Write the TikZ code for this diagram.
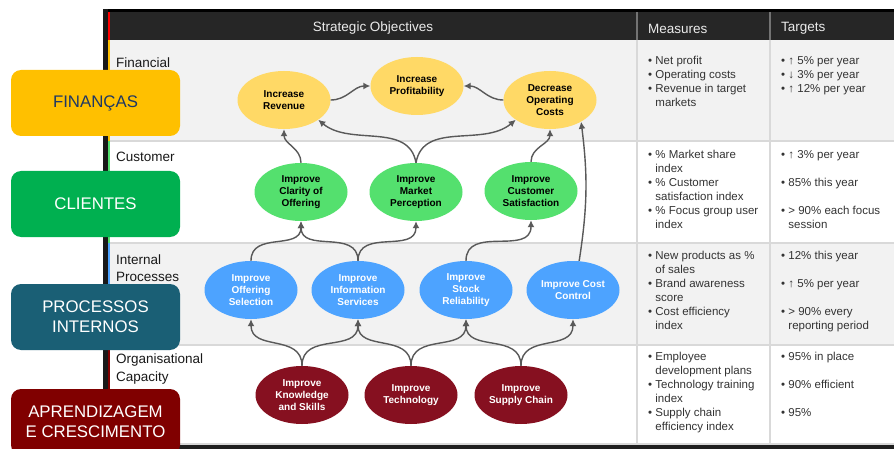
\documentclass[tikz,border=0pt]{standalone}
\usepackage{fontspec}
\setmainfont{Liberation Sans}
\usetikzlibrary{shapes.geometric,arrows.meta}
\definecolor{hdrc}{HTML}{262626}
\definecolor{rowc}{HTML}{F2F2F2}
\definecolor{gridc}{HTML}{D9D9D9}
\definecolor{finc}{HTML}{FFD966}
\definecolor{cusc}{HTML}{54E06E}
\definecolor{intc}{HTML}{4DA3FF}
\definecolor{orgc}{HTML}{861020}
\definecolor{arrc}{HTML}{595959}
\definecolor{bfin}{HTML}{FFC000}
\definecolor{bcus}{HTML}{00B050}
\definecolor{bint}{HTML}{1A5F75}
\definecolor{borg}{HTML}{800000}
\definecolor{navy}{HTML}{1F3864}
\definecolor{txtc}{HTML}{333333}
\begin{document}
\begin{tikzpicture}[x=1pt,y=1pt,
  obj/.style={ellipse, minimum width=93pt, minimum height=58pt, inner sep=0pt, align=center,
    font=\fontsize{10}{12.3}\selectfont\bfseries},
  fin/.style={obj, fill=finc, text=black},
  cus/.style={obj, fill=cusc, text=black},
  int/.style={obj, fill=intc, text=white},
  org/.style={obj, fill=orgc, text=white},
  link/.style={draw=arrc, line width=1.4pt, -{Latex[length=7pt,width=7pt]}},
  cell/.style={anchor=north west, align=left, font=\fontsize{11.5}{13.9}\selectfont, text=txtc, inner sep=0pt},
  rowlab/.style={anchor=west, align=left, font=\fontsize{13.5}{17.5}\selectfont, text=black!90, inner sep=0pt},
  hdrtext/.style={font=\fontsize{13.5}{16}\selectfont, text=white!92!black, inner sep=0pt},
  persp/.style={rounded corners=10pt, minimum width=169pt, minimum height=66pt, align=center,
    font=\fontsize{16.8}{20}\selectfont, inner sep=0pt},
  gridline/.style={draw=gridc, line width=1.6pt},
]
\useasboundingbox (0,0) rectangle (894,-449);
\fill[white] (0,0) rectangle (894,-449);
% table rows
\fill[rowc] (110,-40) rectangle (894,-141);
\fill[white] (110,-141) rectangle (894,-243);
\fill[rowc] (110,-243) rectangle (894,-345);
\fill[white] (110,-345) rectangle (894,-445);
\draw[gridline] (110,-141) -- (894,-141);
\draw[gridline] (110,-243) -- (894,-243);
\draw[gridline] (110,-345) -- (894,-345);
\draw[gridline] (110,-444) -- (894,-444);
\draw[gridline] (637,-40) -- (637,-445);
\draw[gridline] (770,-40) -- (770,-445);
% header
\fill[hdrc] (103,-9) rectangle (894,-40);
\fill[black] (103,-9) rectangle (894,-12);
\draw[draw=black!55, line width=1.2pt] (637,-12) -- (637,-40);
\draw[draw=black!55, line width=1.2pt] (770,-12) -- (770,-40);
\fill[black!88] (103,-445) rectangle (894,-449);
% left bar and strips
\fill[black!90] (103,-9) rectangle (107.5,-449);
\fill[red] (107.5,-12) rectangle (110,-40);
\fill[bfin] (107.5,-40) rectangle (110,-141);
\fill[cusc] (107.5,-141) rectangle (110,-243);
\fill[intc] (107.5,-243) rectangle (110,-345);
\fill[borg] (107.5,-345) rectangle (110,-445);
% header texts
\node[hdrtext] (h1) at (373,-28.5) {Strategic Objectives};
\node[hdrtext, anchor=west] (h2) at (648,-28.5) {Measures};
\node[hdrtext, anchor=west] (h3) at (781,-28.5) {Targets};
% row labels
\node[rowlab] (l1) at (116,-63) {Financial};
\node[rowlab] (l2) at (116,-157) {Customer};
\node[rowlab] (l3) at (116,-268) {Internal\\Processes};
\node[rowlab] (l4) at (116,-369) {Organisational\\Capacity};
% perspective boxes
\node[persp, fill=bfin, text=navy] (pfin) at (95.5,-103) {FINANÇAS};
\node[persp, fill=bcus, text=white] (pcus) at (95.5,-204) {CLIENTES};
\node[persp, fill=bint, text=white] (pint) at (95.5,-317) {PROCESSOS\\INTERNOS};
\node[persp, fill=borg, text=white] (porg) at (95.5,-422) {APRENDIZAGEM\\E CRESCIMENTO};
% measures
\node[cell] (m1) at (648,-55) {\strut• Net profit\\• Operating costs\\• Revenue in target\\\hphantom{• }markets};
\node[cell] (t1) at (781,-55) {\strut• ↑ 5\% per year\\• ↓ 3\% per year\\• ↑ 12\% per year};
\node[cell] (m2) at (648,-149) {\strut• \% Market share\\\hphantom{• }index\\• \% Customer\\\hphantom{• }satisfaction index\\• \% Focus group user\\\hphantom{• }index};
\node[cell] (t2) at (781,-149) {\strut• ↑ 3\% per year\\\mbox{}\\• 85\% this year\\\mbox{}\\• > 90\% each focus\\\hphantom{• }session};
\node[cell] (m3) at (648,-250) {\strut• New products as \%\\\hphantom{• }of sales\\• Brand awareness\\\hphantom{• }score\\• Cost efficiency\\\hphantom{• }index};
\node[cell] (t3) at (781,-250) {\strut• 12\% this year\\\mbox{}\\• ↑ 5\% per year\\\mbox{}\\• > 90\% every\\\hphantom{• }reporting period};
\node[cell] (m4) at (648,-351) {\strut• Employee\\\hphantom{• }development plans\\• Technology training\\\hphantom{• }index\\• Supply chain\\\hphantom{• }efficiency index};
\node[cell] (t4) at (781,-351) {\strut• 95\% in place\\\mbox{}\\• 90\% efficient\\\mbox{}\\• 95\%};
% objectives
\node[fin] (IR) at (284,-100) {Increase\\Revenue};
\node[fin] (IP) at (417,-86) {Increase\\Profitability};
\node[fin] (DOC) at (550,-100) {Decrease\\Operating\\Costs};
\node[cus] (ICO) at (301,-192) {Improve\\Clarity of\\Offering};
\node[cus] (IMP) at (416,-192) {Improve\\Market\\Perception};
\node[cus] (ICS) at (531,-191) {Improve\\Customer\\Satisfaction};
\node[int] (IOS) at (251,-290) {Improve\\Offering\\Selection};
\node[int] (IIS) at (358,-290) {Improve\\Information\\Services};
\node[int] (ISR) at (466,-290) {Improve\\Stock\\Reliability};
\node[int] (ICC) at (573,-290) {Improve Cost\\Control};
\node[org] (IKS) at (302,-395) {Improve\\Knowledge\\and Skills};
\node[org] (IT) at (411,-395) {Improve\\Technology};
\node[org] (ISC) at (521,-395) {Improve\\Supply Chain};
% links
\draw[link] (IR.east) to[out=0,in=180] (IP.west);
\draw[link] (DOC.west) to[out=180,in=0] (IP.east);
\draw[link] (ICO.north) to[out=90,in=-90] (IR.south);
\draw[link] (IMP.north) to[out=100,in=-40] (IR.-30);
\draw[link] (IMP.north) to[out=80,in=-140] (DOC.-150);
\draw[link] (ICS.north) to[out=90,in=-90] (DOC.south);
\draw[link] (ICC.78) to[bend right=8] (DOC.-35);
\draw[link] (IOS.north) to[out=90,in=-90,looseness=1.2] (ICO.south);
\draw[link] (IIS.north) to[out=90,in=-90,looseness=1.2] (ICO.south);
\draw[link] (IIS.north) to[out=90,in=-90,looseness=1.2] (IMP.south);
\draw[link] (ISR.north) to[out=90,in=-90,looseness=1.2] (ICS.south);
\draw[link] (IKS.north) to[out=90,in=-90,looseness=1.2] (IOS.south);
\draw[link] (IKS.north) to[out=90,in=-90,looseness=1.2] (IIS.south);
\draw[link] (IT.north) to[out=90,in=-90,looseness=1.2] (IIS.south);
\draw[link] (IT.north) to[out=90,in=-90,looseness=1.2] (ISR.south);
\draw[link] (ISC.north) to[out=90,in=-90,looseness=1.2] (ISR.south);
\draw[link] (ISC.north) to[out=90,in=-90,looseness=1.2] (ICC.south);
\end{tikzpicture}
\end{document}
